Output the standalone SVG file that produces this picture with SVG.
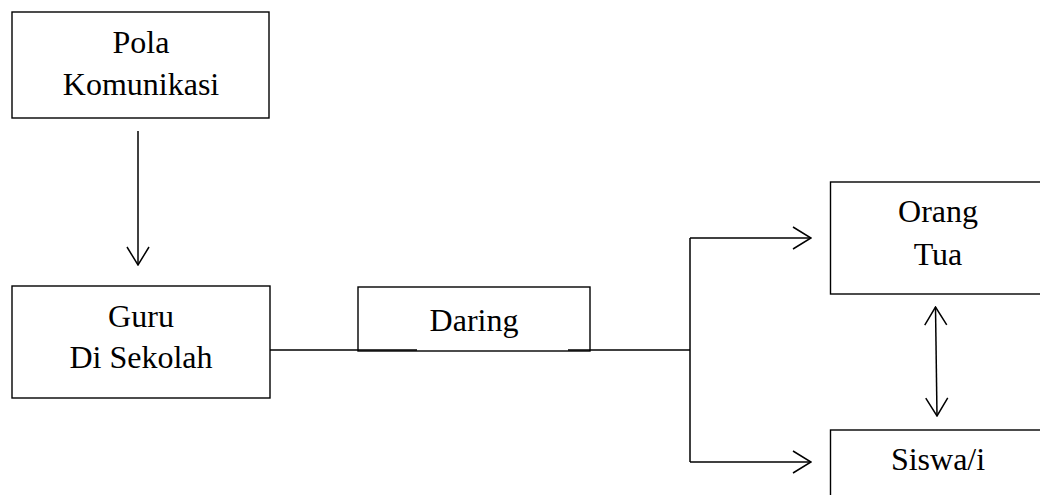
<svg xmlns="http://www.w3.org/2000/svg" width="1040" height="495" viewBox="0 0 1040 495">
<style>
.box{fill:#fff;stroke:#000;stroke-width:1.4}
.t{font-family:"Liberation Serif","Times New Roman",serif;font-size:32px;fill:#000;text-anchor:middle}
.c{fill:none;stroke:#000;stroke-width:1.5}
</style>
<defs>
<marker id="ah" viewBox="0 0 20 24" refX="19" refY="12" markerWidth="20" markerHeight="24" markerUnits="userSpaceOnUse" orient="auto-start-reverse">
<path d="M1,1 L19,12 L1,23" fill="none" stroke="#000" stroke-width="1.5"/>
</marker>
</defs>
<rect width="1040" height="495" fill="#fff"/>
<g id="pola">
<rect class="box" x="12" y="12" width="257" height="106"/>
<text class="t" x="141" y="53">Pola</text>
<text class="t" x="141" y="95">Komunikasi</text>
</g>
<g id="guru">
<rect class="box" x="12" y="286" width="258" height="112"/>
<text class="t" x="141" y="327">Guru</text>
<text class="t" x="141" y="368">Di Sekolah</text>
</g>
<g id="daring">
<rect class="box" x="358" y="287" width="232" height="64"/>
<text class="t" x="474" y="331">Daring</text>
</g>
<g id="orangtua">
<rect class="box" x="830.5" y="182" width="220" height="112"/>
<text class="t" x="938" y="222">Orang</text>
<text class="t" x="938" y="265">Tua</text>
</g>
<g id="siswa">
<rect class="box" x="830.5" y="430" width="220" height="80"/>
<text class="t" x="938" y="470">Siswa/i</text>
</g>
<g id="connectors">
<line class="c" x1="138" y1="131" x2="138" y2="265" marker-end="url(#ah)"/>
<line class="c" x1="270" y1="350" x2="417" y2="350" stroke-width="2"/>
<line class="c" x1="568" y1="350" x2="690" y2="350" stroke-width="2"/>
<path class="c" d="M690,238 L690,462"/>
<line class="c" x1="690" y1="238" x2="811" y2="238" marker-end="url(#ah)"/>
<line class="c" x1="690" y1="462" x2="811" y2="462" marker-end="url(#ah)"/>
<line class="c" x1="935.5" y1="307" x2="937" y2="416" marker-start="url(#ah)" marker-end="url(#ah)"/>
</g>
</svg>
